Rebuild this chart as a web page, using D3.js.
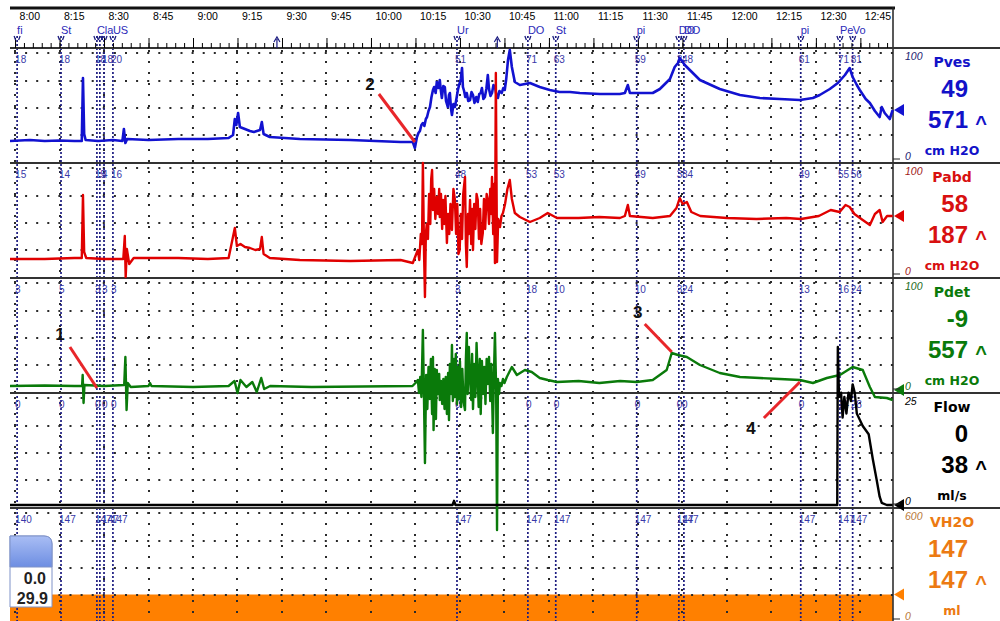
<!DOCTYPE html>
<html>
<head>
<meta charset="utf-8">
<script src="https://cdn.jsdelivr.net/npm/d3@7"></script>
<style>
  body { margin: 0; background: #fff; }
  svg { display: block; }
  text { font-family: "Liberation Sans", Arial, sans-serif; }
</style>
</head>
<body>
<svg id="chart" width="1000" height="621"></svg>
<script>
// 時間は 8:00 からの分
const timeLabels = ["8:00","8:15","8:30","8:45","9:00","9:15","9:30","9:45","10:00","10:15",
    "10:30","10:45","11:00","11:15","11:30","11:45","12:00","12:15","12:30","12:45"];

// イベントマーカー
const eventTimes = [0.7, 15.5, 27.6, 28.6, 30.0, 33.0, 149.0, 172.9, 182.3, 209.6, 223.8, 225.5, 264.9, 278.1, 282.4];
const eventCodes = ["fi", "St", "Cla", "", "", "US", "Ur", "DO", "St", "pi", "DO", "DO", "pi", "Pe", "Vo"];
const commentTimes = [88.3, 162.6];
const pvesMarks = ["18", "18", "18", "", "18", "20", "51", "71", "63", "59", "3", "48", "61", "71", "81"];
const pabdMarks = ["15", "14", "15", "", "4", "16", "48", "53", "53", "49", "3", "84", "49", "55", "56"];
const pdetMarks = ["3", "5", "3", "", "3", "3", "3", "18", "10", "10", "3", "24", "13", "16", "24"];
const flowMarks = ["0", "0", "0", "", "0", "0", "0", "0", "0", "0", "0", "0", "0", "14", "28"];
const volMarks = ["140", "147", "147", "", "147", "147", "147", "147", "147", "147", "147", "147", "147", "147", "147"];

// チャンネル情報
const chanNames = ["Pves", "Pabd", "Pdet", "Flow", "VH2O"];
const chanNow = ["49", "58", "-9", "0", "147"];
const chanMax = ["571", "187", "557", "38", "147"];
const chanUnits = ["cm H2O", "cm H2O", "cm H2O", "ml/s", "ml"];
const chanTopLabel = ["100", "100", "100", "25", "600"];

// 波形データ [分, 値]
const pves = [[-1.7,18],[5,19],[10,18],[15,18.5],[20,18],[22.5,18],[22.9,81],[23.3,25],[23.8,19],[28,18],[33,19],
    [36.2,18],[36.7,30],[37.2,16],[37.8,20],[45,19],[55,20],[65,20],[72,21],[73.5,24],[74.1,40],[74.6,34],[75.2,46],
    [75.8,32],[77.5,30],[79.2,28],[80.5,27],[82.6,29],[83.2,37],[83.8,25],[85.9,22],[96,20],[113,19],[130,17],
    [134.1,17],[134.8,11],[135.5,22],[136,26],[136.5,28],[137,34],[137.5,36],[138,33],[138.5,40],[138.9,42],[139.4,48],
    [139.9,52],[140.4,62],[140.9,69],[141.3,72],[141.8,66],[142.2,77],[142.7,71],[143.2,79],[143.5,70],[143.9,61],
    [144.4,73],[144.9,72],[145.3,58],[145.9,52],[146.3,64],[146.6,66],[147,50],[147.3,44],[147.8,55],[148.3,52],
    [148.8,60],[149.3,69],[149.8,75],[150.3,80],[150.7,91],[151,72],[151.4,68],[151.8,62],[152.3,66],[152.8,58],
    [153.4,59],[153.9,67],[154.4,64],[154.9,56],[155.5,62],[156,57],[156.5,65],[157,66],[157.4,71],[157.9,60],
    [158.4,62],[158.9,70],[159.4,84],[159.8,70],[160.3,63],[160.8,66],[161.3,74],[161.8,72],[162.3,64],[162.8,61],
    [163.3,68],[164.1,66],[164.6,71],[165.1,69],[165.6,80],[166.2,99],[166.8,109],[167.5,92],[168.5,77],[170.2,74],
    [173.6,76],[176.9,72],[180.3,69],[183.6,67],[187.1,67],[190.4,66],[197.2,65],[203.9,65],[205.6,66],[206.6,74],
    [207.3,66],[215,66],[217.4,70],[220.8,80],[222.4,92],[223.5,96],[224.1,101],[225.1,97],[225.8,94],[227.5,89],
    [230.9,79],[237.6,70],[244.4,64],[251.1,61],[257.8,60],[264.6,59],[269,61],[271.3,64],[274.7,70],[277.4,76],
    [279.8,84],[281.4,91],[282.4,82],[283.8,74],[284.8,69],[286.8,60],[288.2,56],[289.9,48],[291.5,42],[292.2,52],
    [293.2,46],[294.9,40],[295.9,49]];

const pabd = [[-1.7,15],[10,15],[20,16],[22.5,16],[22.9,79],[23.3,22],[24,16],[30,15],[36.5,15],[37,38],[37.3,-3],
    [37.7,25],[38.5,10],[40,16],[55,16],[65,15],[72,16],[74.1,46],[74.8,28],[76,30],[77.5,27],[79.2,26],[81,24],
    [82.6,25],[83.2,37],[83.8,20],[85.9,16],[96,14],[113,13],[130,14],[134.1,11],[135,18],[135.8,24],[136.3,14],
    [136.8,40],[137.2,30],[137.5,111],[137.9,20],[138.2,-23],[138.5,40],[138.8,50],[139.2,35],[139.6,80],[140,50],
    [140.3,95],[140.6,104],[140.9,64],[141.3,85],[141.7,55],[142.2,77],[142.6,60],[143,85],[143.2,57],[143.6,80],
    [144,45],[144.3,74],[144.7,50],[145.1,78],[145.6,31],[146,60],[146.4,40],[146.8,70],[147.3,44],[147.8,85],
    [148.3,74],[148.7,40],[149.1,70],[149.5,20],[149.9,24],[150.3,60],[150.7,35],[151.1,80],[151.7,97],[152,30],
    [152.3,7],[152.7,60],[153,40],[153.4,74],[153.8,30],[154.1,65],[154.4,24],[154.8,70],[155.2,45],[155.6,80],
    [156,74],[156.4,35],[156.8,65],[157.2,30],[157.7,41],[158.1,75],[158.5,45],[159,80],[159.4,74],[159.8,50],
    [160.2,85],[160.5,60],[160.8,97],[161.2,40],[161.5,90],[161.8,11],[162.1,201],[162.5,12],[162.9,55],[163.5,47],
    [164,58],[164.5,61],[165.2,70],[166,85],[166.8,94],[167.5,75],[168.5,61],[170.2,57],[173.6,52],[176.9,56],
    [179.6,61],[182.7,56],[190,56],[197,57],[203.9,56],[205.6,58],[206.6,69],[207.3,58],[215,56],[220.8,58],[223,66],
    [224.1,76],[225.1,70],[226.5,72],[228,62],[231,58],[240,56],[250,55],[260,56],[265,55],[271,58],[275,64],[278,62],
    [280,69],[281.4,67],[283,60],[285.8,54],[288.2,49],[289.9,60],[291.5,64],[292.5,52],[294,58],[295.9,58]];

const pdet = [[-1.7,3],[10,3.5],[20,3],[22.6,3],[22.8,14],[23.1,-14],[23.4,4],[30,3],[36.8,4],[37.2,32],[37.6,-21],
    [38,6],[39,2],[45,3],[45.5,6],[46,3],[60,2],[72,3],[74,8],[75,-4],[76,9],[78,2],[80,7],[81.5,-3],[83,11],[84,0],
    [86,3],[100,2],[134,3],[135,6],[135.8,9],[136.2,-4],[136.6,12],[137,-8],[137.5,59],[137.8,5],[138.2,-74],
    [138.6,14],[139,-20],[139.4,22],[139.8,-10],[140.2,30],[140.6,-25],[140.9,32],[141.1,-41],[141.5,20],[141.9,-30],
    [142.2,19],[142.6,-5],[143,15],[143.2,-11],[143.6,8],[144,-15],[144.4,10],[144.8,-20],[145.2,12],[145.6,-25],
    [146,16],[146.3,-31],[146.6,25],[147,-5],[147.3,44],[147.6,-12],[148,30],[148.3,-8],[148.6,35],[149,-15],
    [149.3,22],[149.7,-10],[150,28],[150.4,-18],[150.8,20],[151.2,-12],[151.7,-21],[152,30],[152.3,56],[152.6,-5],
    [153,42],[153.4,10],[153.8,-11],[154.1,35],[154.4,-20],[154.8,25],[155.2,-8],[155.6,46],[156,10],[156.3,-18],
    [156.7,30],[157,-25],[157.4,28],[157.8,-5],[158.2,22],[158.6,-15],[159,30],[159.4,5],[159.8,32],[160.2,-12],
    [160.6,25],[161.1,-44],[161.5,20],[161.8,56],[162.2,0],[162.5,-141],[162.8,10],[163.2,-5],[163.5,6],[164,3],
    [164.5,10],[165,6],[165.8,12],[167.5,22],[169.2,14],[171.9,19],[174.2,17],[176.9,11],[179.6,9],[182.7,7],[190,8],
    [197,6],[204,8],[209.6,7],[215,9],[219.7,19],[221.4,36],[223.5,34],[226.5,32],[230.9,24],[237.6,16],[244.4,12],
    [251.1,11],[257.8,10],[264.6,9],[269,6],[273.7,11],[278.1,14],[282.4,22],[285.8,19],[288.2,2],[289.9,-8],
    [293.9,-9],[295.9,-11]];

const flow = [[-1.7,0],[147.5,0],[148,1],[148.5,0],[277.2,0],[277.4,38],[277.8,26],[278.5,27],[279,21],[279.6,26],
    [280.3,22],[281,27],[281.8,25],[282.4,29],[283.1,27],[283.8,22],[285.8,19],[287.8,17],[289.2,11],[290.5,6],
    [291.5,2],[292.2,0.5],[293.9,0],[295.9,0]];

const vh2o = [[-1.7,147],[295.9,147]];

// 注釈 (対象チャンネル, 分, 値)
const annoText = ["1", "2", "3", "4"];
const annoChan = [2, 0, 2, 2];
const annoTime = [27.6, 134.8, 221.4, 264.6];
const annoValue = [1, 17, 37, 7];

const svg = d3.select("#chart");
const x = d3.scaleLinear().domain([-1.7, 296]).range([10, 893]);

const panelTops = [48, 163, 278, 393, 508];
const yScales = [
    d3.scaleLinear().domain([0, 100]).range([159, 59]),
    d3.scaleLinear().domain([0, 100]).range([274, 174]),
    d3.scaleLinear().domain([0, 100]).range([389, 289]),
    d3.scaleLinear().domain([0, 25]).range([505, 401]),
    d3.scaleLinear().domain([0, 600]).range([619, 519])
];
const colors = ["#1212d0", "#e00000", "#0a7a0a", "#000000", "#ff8000"];
const textColors = ["#1212c8", "#d81010", "#0a7a0a", "#000000", "#ec7a12"];
const topColors = ["#1a1a70", "#a01818", "#1a6a1a", "#000000", "#b87838"];

// 容量の塗り
svg.append("path")
    .datum(vh2o)
    .attr("fill", "#ff8000")
    .attr("d", d3.area().x(d => x(d[0])).y0(621).y1(d => yScales[4](d[1])));

// グリッド(点線)
const grid = svg.append("g").attr("stroke", "#2a2a2a").attr("stroke-width", 2);
grid.selectAll("line.col")
    .data(d3.range(0, 295, 15))
    .enter()
    .append("line")
    .attr("x1", d => Math.round(x(d))).attr("x2", d => Math.round(x(d)))
    .attr("y1", 50).attr("y2", 621)
    .attr("stroke-dasharray", "2,9");
panelTops.forEach(T => {
    [5, 33, 60, 87].forEach(o => {
        grid.append("line")
            .attr("x1", Math.round(x(0)) - 1).attr("x2", 893)
            .attr("y1", T + o).attr("y2", T + o)
            .attr("stroke-dasharray", "2,9.1");
    });
});

// イベントの縦線
svg.append("g")
    .selectAll("line")
    .data(eventTimes)
    .enter()
    .append("line")
    .attr("x1", d => x(d)).attr("x2", d => x(d))
    .attr("y1", 36).attr("y2", 621)
    .attr("stroke", "#1c1c80")
    .attr("stroke-width", 1.7)
    .attr("stroke-dasharray", "2,2");

// 区切り線
svg.append("line").attr("x1", 10).attr("x2", 895).attr("y1", 8).attr("y2", 8)
    .attr("stroke", "#111").attr("stroke-width", 3);
svg.append("line").attr("x1", 893).attr("x2", 893).attr("y1", 7).attr("y2", 621)
    .attr("stroke", "#222").attr("stroke-width", 1.5);
svg.selectAll("line.div")
    .data(panelTops)
    .enter()
    .append("line")
    .attr("x1", 10).attr("x2", 1000)
    .attr("y1", d => d).attr("y2", d => d)
    .attr("stroke", "#333")
    .attr("stroke-width", 2);

// 時間軸
const axisG = svg.append("g").attr("transform", "translate(0,48)");
axisG.call(d3.axisTop(x).tickValues(d3.range(0, 295, 3)).tickSize(5).tickFormat(""))
    .call(g => g.select(".domain").remove());
const axisMajor = svg.append("g").attr("transform", "translate(0,48)");
axisMajor.call(d3.axisTop(x).tickValues(d3.range(0, 286, 15)).tickSize(10).tickFormat((d, i) => timeLabels[i]))
    .call(g => g.select(".domain").remove());
axisMajor.selectAll("text")
    .attr("text-anchor", "start")
    .attr("x", 4)
    .attr("y", -28)
    .attr("font-size", 10.5)
    .attr("fill", "#000")
    .style("font-family", "'Liberation Sans', Arial, sans-serif");
svg.selectAll(".tick line").attr("stroke", "#000");

// イベント記号とコード
const ev = svg.append("g");
eventTimes.forEach((t, i) => {
    const ex = x(t);
    ev.append("path")
        .attr("d", `M${ex - 3},36 L${ex - 1.5},40 M${ex + 3},36 L${ex + 1.5},40`)
        .attr("stroke", "#1c1c80").attr("stroke-width", 1.3).attr("fill", "none");
    ev.append("text")
        .attr("x", ex).attr("y", 34)
        .attr("font-size", 11)
        .attr("fill", "#2a2ab8")
        .text(eventCodes[i]);
});
commentTimes.forEach(t => {
    const ex = x(t);
    ev.append("path")
        .attr("d", `M${ex - 3},42 L${ex},37 L${ex + 3},42 M${ex},39 V48`)
        .attr("stroke", "#1c1c80").attr("stroke-width", 1.2).attr("fill", "none");
});

// パネル上部のイベント値
const markSets = [pvesMarks, pabdMarks, pdetMarks, flowMarks, volMarks];
markSets.forEach((marks, p) => {
    svg.append("g")
        .selectAll("text")
        .data(marks)
        .enter()
        .append("text")
        .attr("x", (d, i) => x(eventTimes[i]) - 2)
        .attr("y", panelTops[p] + 15)
        .attr("font-size", 10)
        .attr("fill", "#3838a8")
        .text(d => d);
});

// 波形
const series = [pves, pabd, pdet, flow];
const widths = [2.6, 2.4, 2.4, 2.4];
series.forEach((data, p) => {
    const line = d3.line().x(d => x(d[0])).y(d => yScales[p](d[1]));
    svg.append("path")
        .datum(data)
        .attr("fill", "none")
        .attr("stroke", colors[p])
        .attr("stroke-width", widths[p])
        .attr("stroke-linejoin", "round")
        .attr("d", line);
});

// 右側の表示
const side = svg.append("g");
chanNames.forEach((name, p) => {
    const T = panelTops[p];
    const last = p === 4 ? vh2o[vh2o.length - 1] : series[p][series[p].length - 1];
    const ty = Math.min(yScales[p](last[1]), T + 112);
    side.append("path")
        .attr("d", `M894,${ty} L904,${ty - 6} L904,${ty + 6} Z`)
        .attr("fill", colors[p]);
    side.append("line").attr("x1", 893).attr("x2", 900).attr("y1", T + 111).attr("y2", T + 111)
        .attr("stroke", "#222").attr("stroke-width", 1);
    side.append("text").attr("x", 905).attr("y", T + 12)
        .attr("font-size", 10.5).attr("font-style", "italic").attr("fill", topColors[p])
        .text(chanTopLabel[p]);
    side.append("text").attr("x", 905).attr("y", T + 112)
        .attr("font-size", 10.5).attr("font-style", "italic").attr("fill", topColors[p])
        .text("0");
    side.append("text").attr("x", 952).attr("y", T + 19)
        .attr("text-anchor", "middle").attr("font-size", 14).attr("font-weight", "bold")
        .style("font-family", "'DejaVu Sans', Verdana, sans-serif")
        .attr("fill", textColors[p]).text(name);
    side.append("text").attr("x", 968).attr("y", T + 49)
        .attr("text-anchor", "end").attr("font-size", 24).attr("font-weight", "bold")
        .attr("fill", textColors[p]).text(chanNow[p]);
    side.append("text").attr("x", 968).attr("y", T + 80)
        .attr("text-anchor", "end").attr("font-size", 24).attr("font-weight", "bold")
        .attr("fill", textColors[p]).text(chanMax[p]);
    side.append("text").attr("x", 981).attr("y", T + 82)
        .attr("text-anchor", "middle").attr("font-size", 20).attr("font-weight", "bold")
        .attr("fill", textColors[p]).text("^");
    side.append("text").attr("x", 952).attr("y", T + 107)
        .attr("text-anchor", "middle").attr("font-size", 12.5).attr("font-weight", "bold")
        .style("font-family", "'DejaVu Sans', Verdana, sans-serif")
        .attr("fill", p === 3 ? "#000" : textColors[p]).text(chanUnits[p]);
});

// 注釈の赤線と番号
const annoDx = [-27, -36, -27, -36];
const annoDy = [-41, -48, -28, 36];
const annoTx = [-37, -45, -34, -49];
const annoTy = [-48, -52, -34, 52];
annoText.forEach((txt, i) => {
    const ax = x(annoTime[i]);
    const ay = yScales[annoChan[i]](annoValue[i]);
    svg.append("line")
        .attr("x1", ax + annoDx[i]).attr("y1", ay + annoDy[i])
        .attr("x2", ax).attr("y2", ay)
        .attr("stroke", "#e8262a").attr("stroke-width", 3);
    svg.append("text")
        .attr("x", ax + annoTx[i]).attr("y", ay + annoTy[i])
        .attr("text-anchor", "middle")
        .attr("font-size", 17).attr("font-weight", "bold")
        .attr("fill", "#111").text(txt);
});

// 左下のボックス
const defs = svg.append("defs");
const grad = defs.append("linearGradient").attr("id", "boxg").attr("x1", 0).attr("y1", 0).attr("x2", 0).attr("y2", 1);
grad.append("stop").attr("offset", "0%").attr("stop-color", "#a9bdf4");
grad.append("stop").attr("offset", "100%").attr("stop-color", "#6d8ee2");
svg.append("path")
    .attr("d", "M10,536 H44 Q52,536 52,544 V607 H10 Z")
    .attr("fill", "#fff").attr("stroke", "#7f92c8").attr("stroke-width", 1);
svg.append("path")
    .attr("d", "M10,536 H44 Q52,536 52,544 V567 H10 Z")
    .attr("fill", "url(#boxg)").attr("stroke", "#7f92c8").attr("stroke-width", 1);
svg.append("text").attr("x", 46).attr("y", 584).attr("text-anchor", "end")
    .attr("font-size", 16).attr("font-weight", "bold").attr("fill", "#222").text("0.0");
svg.append("text").attr("x", 48).attr("y", 604).attr("text-anchor", "end")
    .attr("font-size", 16).attr("font-weight", "bold").attr("fill", "#222").text("29.9");
</script>
</body>
</html>
